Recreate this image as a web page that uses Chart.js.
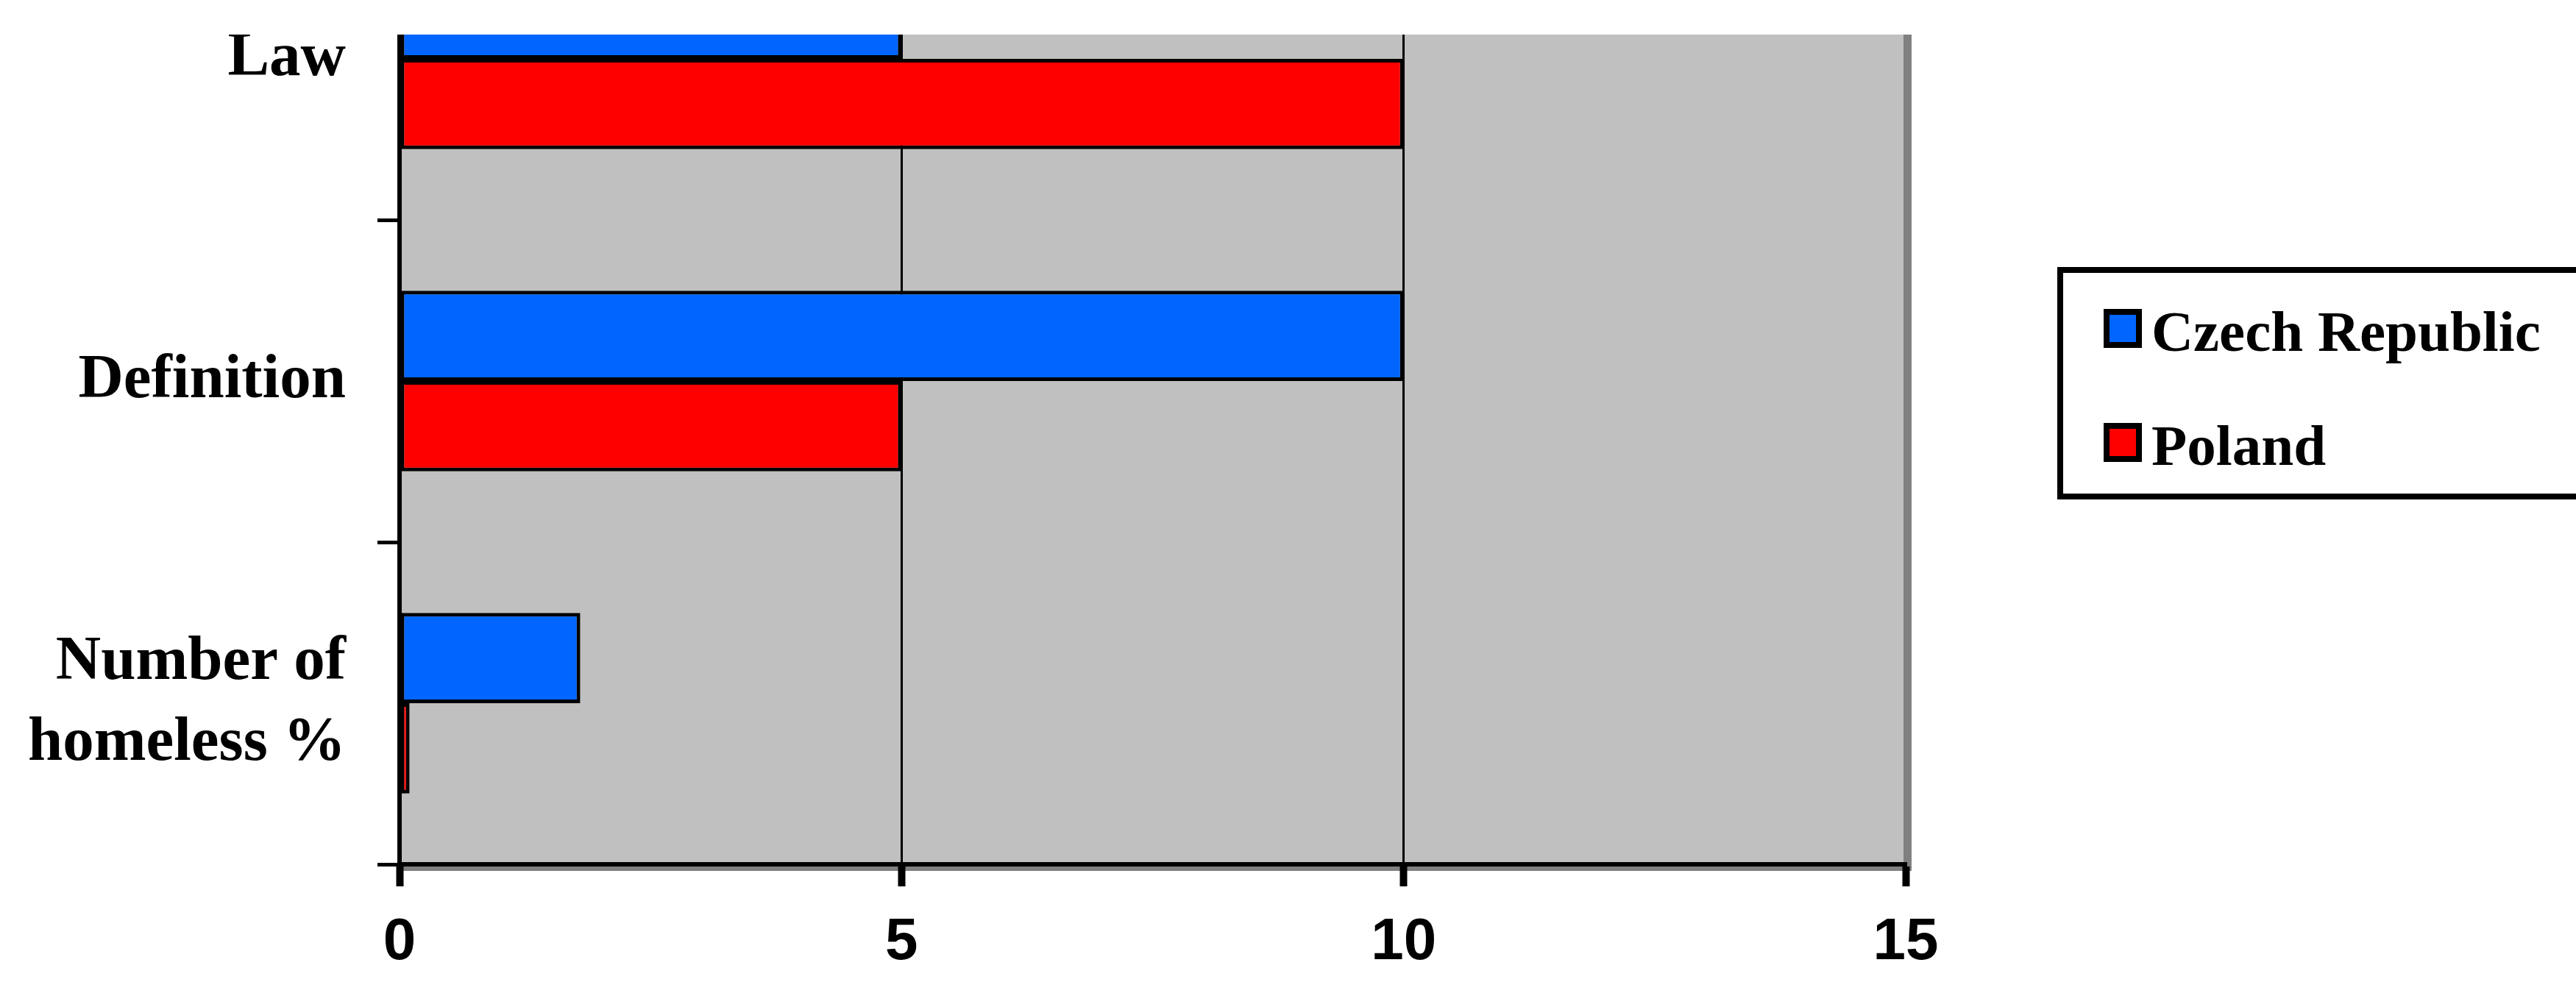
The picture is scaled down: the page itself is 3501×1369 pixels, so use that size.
<!DOCTYPE html>
<html>
<head>
<meta charset="utf-8">
<title>Homelessness: Czech Republic and Poland</title>
<script src="https://cdn.jsdelivr.net/npm/chart.js@4.4.1/dist/chart.umd.min.js"></script>
<style>
  html, body {
    margin: 0;
    padding: 0;
    background: #fff;
    width: 3501px;
    height: 1369px;
    overflow: hidden;
    position: relative;
  }
  /* the original picture is cut off just above the plot, so clip the top */
  .plot-clip {
    position: absolute;
    left: 0;
    top: 47px;
    width: 3501px;
    height: 1322px;
    overflow: hidden;
  }
  #chart {
    position: absolute;
    left: 0;
    top: -186px;
  }
  .legend-box {
    position: absolute;
    left: 2796px;
    top: 363px;
    width: 800px;
    height: 316px;
    border: 8px solid #000;
    box-sizing: border-box;
    background: #fff;
  }
  .legend-item {
    position: absolute;
    left: 0;
    height: 80px;
    width: 100%;
  }
  .legend-swatch {
    position: absolute;
    left: 55px;
    top: 9px;
    width: 52px;
    height: 53px;
    border: 8px solid #000;
    box-sizing: border-box;
  }
  .legend-text {
    position: absolute;
    left: 120px;
    top: 0;
    font-family: "Liberation Serif", "DejaVu Serif", serif;
    font-weight: bold;
    font-size: 79px;
    line-height: 79px;
    white-space: nowrap;
    color: #000;
  }
</style>
</head>
<body>
<div class="plot-clip">
  <canvas id="chart" width="3501" height="1508"></canvas>
</div>
<div class="legend-box"></div>

<script>
// chart data
const categories = ['Law', 'Definition', ['Number of', 'homeless %']];
const seriesNames = ['Czech Republic', 'Poland'];
const czechValues = [5, 10, 1.8];
const polandValues = [10, 5, 0.1];
const seriesColors = ['#0066FF', '#FF0000'];
const xTicks = [0, 5, 10, 15];

const chartCanvas = document.getElementById('chart');
const legendBox = document.querySelector('.legend-box');

// grey plot area with the darker edge on right and bottom
const plotBackground = {
    id: 'plotBackground',
    beforeDraw(chart) {
        const { ctx, chartArea } = chart;
        const w = chartArea.right - chartArea.left;
        const h = chartArea.bottom - chartArea.top;
        ctx.save();
        ctx.fillStyle = '#C0C0C0';
        ctx.fillRect(chartArea.left, chartArea.top, w, h);
        ctx.fillStyle = '#808080';
        ctx.fillRect(chartArea.right - 3, chartArea.top, 11, h + 9);
        ctx.fillRect(chartArea.left, chartArea.bottom + 2, w + 8, 7);
        ctx.restore();
    }
};

const valueSeries = [czechValues, polandValues];

const chart = new Chart(chartCanvas, {
    type: 'bar',
    data: {
        labels: categories,
        datasets: seriesNames.map((name, i) => ({
            label: name,
            data: valueSeries[i],
            backgroundColor: seriesColors[i],
            borderColor: '#000',
            borderWidth: 5,
            borderSkipped: false,
            categoryPercentage: 0.56,
            barPercentage: 1
        }))
    },
    options: {
        indexAxis: 'y',
        responsive: false,
        maintainAspectRatio: false,
        animation: false,
        devicePixelRatio: 1,
        layout: {
            padding: { left: 0, right: 911, top: 0, bottom: 0 }
        },
        plugins: {
            legend: { display: false },
            tooltip: { enabled: false }
        },
        scales: {
            x: {
                min: 0,
                max: 15,
                afterBuildTicks: (scale) => {
                    scale.ticks = xTicks.map(v => ({ value: v }));
                },
                afterFit: (scale) => {
                    scale.height = 194;
                },
                grid: {
                    color: (c) => (c.tick && c.tick.value === 15) ? 'rgba(0,0,0,0)' : '#000',
                    lineWidth: 3,
                    tickColor: '#000',
                    tickWidth: 10,
                    tickLength: 30
                },
                border: { color: '#000', width: 6 },
                ticks: {
                    color: '#000',
                    padding: 29,
                    maxRotation: 0,
                    font: { family: 'Liberation Sans', size: 80, weight: 'bold' }
                }
            },
            y: {
                afterFit: (scale) => {
                    scale.width = 543;
                    // no extra room above/below for the label heights
                    scale.paddingTop = 0;
                    scale.paddingBottom = 0;
                },
                grid: {
                    drawOnChartArea: false,
                    color: '#000',
                    tickColor: '#000',
                    tickWidth: 5,
                    tickLength: 30
                },
                border: { color: '#000', width: 6 },
                ticks: {
                    color: '#000',
                    padding: 43,
                    font: { family: 'Liberation Serif', size: 85, weight: 'bold', lineHeight: 1.29 }
                }
            }
        }
    },
    plugins: [plotBackground]
});

// keep the top of the plot area where the original had it
chartCanvas.style.top = (-186 - chart.chartArea.top) + 'px';

// legend built from the series arrays
seriesNames.forEach((name, i) => {
    const item = document.createElement('div');
    item.className = 'legend-item';
    item.style.top = (40 + i * 155) + 'px';
    const swatch = document.createElement('span');
    swatch.className = 'legend-swatch';
    swatch.style.background = seriesColors[i];
    const text = document.createElement('span');
    text.className = 'legend-text';
    text.innerText = name;
    item.appendChild(swatch);
    item.appendChild(text);
    legendBox.appendChild(item);
});
</script>
</body>
</html>
